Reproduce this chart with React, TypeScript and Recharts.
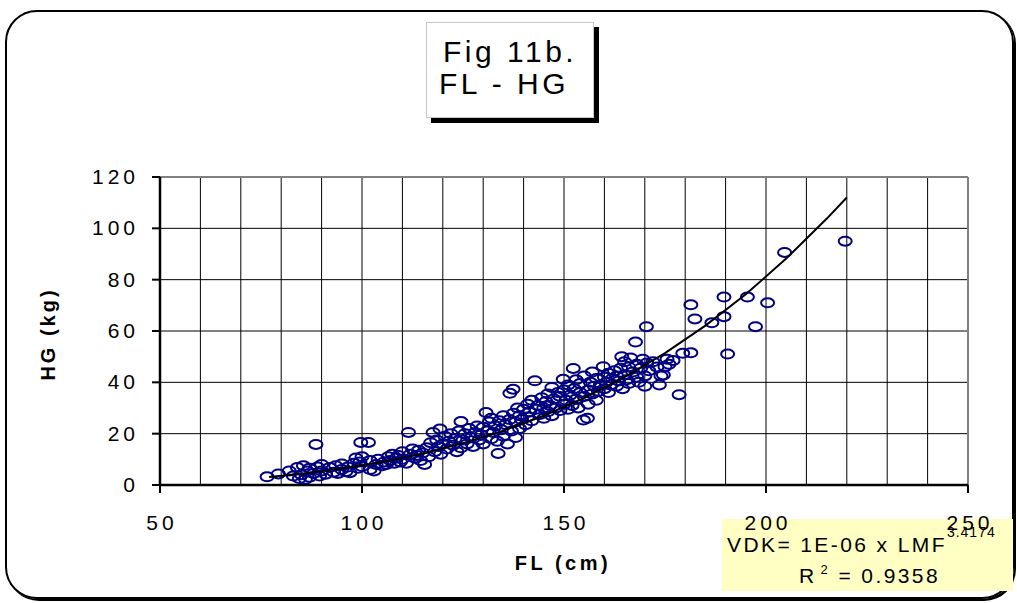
import {
  ScatterChart,
  Scatter,
  XAxis,
  YAxis,
  CartesianGrid,
  ReferenceLine,
} from "recharts";

// fork length (cm) of each fish
const FL = [
  76.5, 79.3, 82, 83, 84, 84.5, 85, 85.5, 86, 86.5,
  87, 87, 88, 88.6, 89, 89.5, 90, 90, 91, 92,
  93, 93.5, 94, 95, 95, 96, 96.5, 97, 98, 98.5,
  99, 99.5, 100, 100, 99.7, 101.6, 102, 102, 103, 103.5,
  104, 105, 105.5, 106, 106.5, 107, 107.5, 108, 108.5, 109,
  109.5, 110, 110, 111, 111.5, 112, 112.5, 113, 113.5, 114,
  114.5, 115, 115.5, 116, 116.5, 117, 117.6, 118, 118.5, 119,
  119.3, 119.5, 120, 120.5, 121, 121.5, 122, 122.5, 123, 123.5,
  124, 124.5, 124.5, 125, 125.5, 126, 126.5, 127, 127.5, 128,
  128.5, 129, 129.5, 130, 130, 130.7, 131, 131.5, 132, 132,
  132.5, 133, 133.5, 133.7, 134, 134.5, 135, 135, 135.5, 136,
  136.5, 136.6, 137, 137.4, 137.5, 138, 138, 138.5, 139, 139,
  139.5, 140, 140.5, 141, 141, 141.5, 142, 142, 142.8, 143,
  143.5, 144, 144.5, 145, 145, 145.5, 146, 146, 146.5, 147,
  147, 147.5, 148, 148.5, 149, 149, 149.8, 150, 150, 150.5,
  151, 151, 151.5, 152, 152.3, 152.5, 153, 153, 153.5, 154,
  154, 154.8, 155, 155, 155.8, 156, 156, 156.5, 157, 157,
  157.5, 158, 158, 158.5, 159, 159.7, 160, 160, 160.5, 161,
  161, 161.5, 162, 162.5, 163, 163, 163.5, 164, 164.3, 164.5,
  165, 165, 165.5, 166, 166, 166.5, 167, 167.7, 168, 168,
  168.5, 169, 169.5, 170, 170, 170.4, 170.5, 171, 172, 173,
  173.6, 174, 174.6, 175, 175.5, 176, 177, 178.5, 179.4, 181.4,
  181.4, 182.4, 186.6, 189.6, 189.6, 190.5, 195.4, 197.4, 200.4, 204.6,
  219.6,
];

// gutted weight (kg) of each fish, same order as FL
const HG = [
  3.2, 4.3, 5.5, 3.5, 6.8, 2.5, 4.0, 7.5, 2.2, 5.5,
  3.0, 6.5, 4.5, 15.8, 7.0, 3.5, 8.0, 5.5, 4.2, 6.8,
  5.0, 7.5, 4.5, 6.0, 8.2, 5.2, 7.0, 4.8, 8.5, 10.5,
  6.5, 9.0, 11.0, 7.2, 16.6, 16.6, 6.0, 9.5, 5.5, 8.0,
  10.0, 7.5, 9.0, 8.0, 11.0, 9.5, 12.0, 8.5, 10.5, 11.5,
  9.0, 13.0, 10.0, 8.5, 20.5, 12.0, 14.0, 10.5, 11.5, 13.5,
  9.5, 12.5, 8.0, 14.5, 11.0, 16.5, 20.5, 13.0, 17.5, 15.0,
  21.8, 12.0, 16.0, 19.0, 14.0, 17.0, 20.0, 15.5, 18.0, 13.0,
  21.0, 24.7, 14.5, 17.5, 20.0, 16.0, 22.0, 18.5, 15.0, 20.5,
  23.0, 17.5, 19.5, 22.5, 16.0, 28.2, 21.0, 24.5, 18.0, 26.0,
  20.5, 23.0, 17.0, 12.3, 25.0, 21.5, 19.0, 27.0, 23.5, 16.0,
  25.5, 35.7, 21.0, 37.3, 28.0, 18.5, 24.5, 30.0, 22.0, 27.0,
  25.5, 29.5, 23.5, 31.5, 26.5, 28.5, 33.0, 25.0, 40.6, 29.5,
  31.0, 27.5, 34.0, 30.0, 26.0, 32.5, 35.5, 28.5, 31.0, 38.0,
  27.0, 33.5, 30.0, 36.0, 29.0, 34.5, 41.2, 31.5, 37.0, 33.0,
  29.5, 39.0, 35.0, 31.0, 45.4, 37.5, 33.5, 41.0, 30.0, 36.0,
  39.5, 25.3, 34.5, 42.5, 26.0, 37.0, 31.5, 40.0, 35.5, 44.0,
  38.5, 33.0, 41.5, 36.5, 39.0, 46.1, 37.5, 42.0, 40.0, 36.0,
  43.5, 39.0, 41.5, 44.5, 38.5, 42.5, 40.5, 45.5, 50.0, 37.5,
  43.0, 48.0, 41.0, 46.0, 39.5, 49.5, 44.0, 55.7, 42.0, 47.0,
  40.0, 45.5, 49.0, 42.5, 38.5, 61.7, 47.5, 44.5, 48.0, 46.0,
  39.0, 42.5, 42.9, 46.1, 49.0, 47.0, 48.5, 35.2, 51.3, 51.5,
  70.2, 64.7, 63.2, 73.2, 65.6, 51.0, 73.2, 61.7, 71.0, 90.6,
  95.0,
];

// power trend line
const TREND_FL = [77, 85, 95, 105, 115, 125, 135, 145, 155, 165, 175, 185, 195, 205, 215, 220];
const TREND_HG = [3.1, 4.4, 6.4, 9.0, 12.2, 16.3, 21.2, 27.0, 33.9, 42.0, 51.4, 62.1, 74.3, 88.2, 103.7, 112];

const X_TICKS = [50, 60, 70, 80, 90, 100, 110, 120, 130, 140, 150, 160, 170, 180, 190, 200, 210, 220, 230, 240, 250];
const Y_TICKS = [0, 20, 40, 60, 80, 100, 120];

const points = FL.map((x, i) => ({ x, y: HG[i] }));
const trend = TREND_FL.map((x, i) => ({ x, y: TREND_HG[i] }));

const FONT = "'Liberation Sans', Arial, sans-serif";

function Ring(props: any) {
  return (
    <ellipse
      cx={props.cx}
      cy={props.cy}
      rx={6.5}
      ry={4.5}
      fill="none"
      stroke="#000080"
      strokeWidth={2}
    />
  );
}

function XTick(props: any) {
  const { x, y, payload } = props;
  if (payload.value % 50 !== 0) return <g />;
  return (
    <g>
      <line x1={x} x2={x} y1={y} y2={y + 8} stroke="#000" strokeWidth={2} />
      <text
        x={x + 2}
        y={y + 45}
        textAnchor="middle"
        fontSize={21}
        letterSpacing={4}
        fill="#000"
      >
        {payload.value}
      </text>
    </g>
  );
}

function YTick(props: any) {
  const { x, y, payload } = props;
  return (
    <text
      x={x}
      y={y + 7}
      textAnchor="end"
      fontSize={21}
      letterSpacing={4}
      fill="#000"
    >
      {payload.value}
    </text>
  );
}

export default function App() {
  return (
    <div
      style={{
        position: "absolute",
        left: 0,
        top: 0,
        width: 1017,
        height: 603,
        background: "#fff",
        fontFamily: FONT,
        overflow: "hidden",
      }}
    >
      <div
        style={{
          position: "absolute",
          left: 5,
          top: 10,
          width: 1009,
          height: 589,
          boxSizing: "border-box",
          border: "2px solid #000",
          borderRadius: 32,
          boxShadow: "2px 2px 0 #000",
        }}
      />
      <div
        style={{
          position: "absolute",
          left: 426,
          top: 22,
          width: 168,
          height: 96,
          boxSizing: "border-box",
          border: "1px solid #c8c8c8",
          background: "#fff",
          boxShadow: "5px 5px 0 #000",
          fontSize: 30,
          lineHeight: "32px",
          letterSpacing: 3.5,
          paddingTop: 13,
          whiteSpace: "nowrap",
        }}
      >
        <div style={{ paddingLeft: 16 }}>Fig 11b.</div>
        <div style={{ paddingLeft: 12 }}>FL - HG</div>
      </div>
      <div
        style={{
          position: "absolute",
          left: 722,
          top: 519,
          width: 291,
          height: 72,
          background: "#ffffc4",
          fontSize: 21,
          lineHeight: "24px",
          letterSpacing: 2.4,
          whiteSpace: "nowrap",
        }}
      >
        <div style={{ position: "absolute", left: 5, top: 14 }}>
          VDK= 1E-06 x LMF
          <span style={{ fontSize: 14, position: "relative", top: -15, letterSpacing: 1 }}>
            3.4174
          </span>
        </div>
        <div style={{ position: "absolute", left: 77, top: 45 }}>
          R<span style={{ fontSize: 13, position: "relative", top: -9, marginLeft: 4 }}>2</span>
          {" "}= 0.9358
        </div>
      </div>
      <div style={{ position: "absolute", left: 0, top: 0 }}>
        <ScatterChart
          width={1017}
          height={603}
          margin={{ top: 177, right: 49, bottom: 78, left: 0 }}
        >
          <CartesianGrid stroke="#000" strokeWidth={1} />
          <XAxis
            type="number"
            dataKey="x"
            domain={[50, 250]}
            ticks={X_TICKS}
            interval={0}
            height={40}
            tickSize={0}
            tickMargin={0}
            tickLine={false}
            tick={<XTick />}
            axisLine={{ stroke: "#000", strokeWidth: 2.5 }}
          />
          <YAxis
            type="number"
            dataKey="y"
            domain={[0, 120]}
            ticks={Y_TICKS}
            interval={0}
            width={160}
            tickSize={8}
            tickMargin={13}
            tickLine={{ stroke: "#000", strokeWidth: 2 }}
            tick={<YTick />}
            axisLine={{ stroke: "#000", strokeWidth: 2.5 }}
          />
          <ReferenceLine y={120} stroke="#808080" strokeWidth={2} />
          <ReferenceLine x={250} stroke="#808080" strokeWidth={2} />
          <Scatter data={points} shape={Ring} isAnimationActive={false} />
          <Scatter
            data={trend}
            line={{ stroke: "#000", strokeWidth: 2 }}
            lineType="joint"
            shape={() => <g />}
            isAnimationActive={false}
          />
        </ScatterChart>
      </div>
      <div
        style={{
          position: "absolute",
          left: 48,
          top: 334,
          transform: "translate(-50%, -50%) rotate(-90deg)",
          fontWeight: "bold",
          fontSize: 20,
          letterSpacing: 3,
          whiteSpace: "nowrap",
        }}
      >
        HG (kg)
      </div>
      <div
        style={{
          position: "absolute",
          left: 563,
          top: 563,
          transform: "translate(-50%, -50%)",
          fontWeight: "bold",
          fontSize: 20,
          letterSpacing: 3.5,
          whiteSpace: "nowrap",
        }}
      >
        FL (cm)
      </div>
    </div>
  );
}
